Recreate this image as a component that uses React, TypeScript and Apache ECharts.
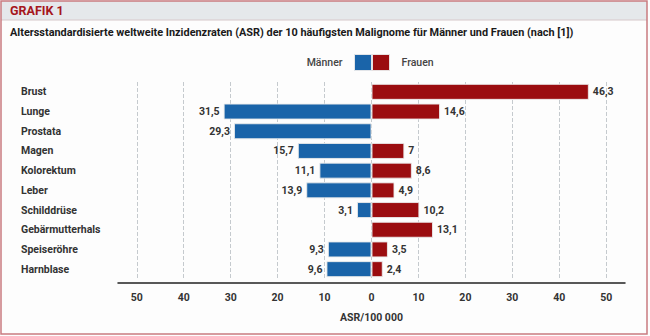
import React, { useEffect, useRef } from "react";
import * as echarts from "echarts";

const categories = [
  "Brust",
  "Lunge",
  "Prostata",
  "Magen",
  "Kolorektum",
  "Leber",
  "Schilddrüse",
  "Gebärmutterhals",
  "Speiseröhre",
  "Harnblase",
];
const men: (number | null)[] = [null, 31.5, 29.3, 15.7, 11.1, 13.9, 3.1, null, 9.3, 9.6];
const women: (number | null)[] = [46.3, 14.6, null, 7, 8.6, 4.9, 10.2, 13.1, 3.5, 2.4];
const tickValues = [-50, -40, -30, -20, -10, 0, 10, 20, 30, 40, 50];

const FONT = "Roboto, 'Liberation Sans', sans-serif";
const fmt = (v: number) => String(Math.abs(v)).replace(".", ",");

export default function App() {
  const ref = useRef<HTMLDivElement>(null);
  useEffect(() => {
    document.body.style.margin = "0";
    const chart = echarts.init(ref.current!, null, { renderer: "svg" });
    const labelStyle = { fontFamily: FONT, fontSize: 10.5, fontWeight: "bold", color: "#333" };
    chart.setOption({
      animation: false,
      backgroundColor: "#fdfdfd",
      textStyle: { fontFamily: FONT },
      graphic: [
        {
          type: "rect",
          z: -10,
          shape: { x: 1, y: 1, width: 646, height: 19 },
          style: { fill: "#e5e8eb" },
          silent: true,
        },
        {
          type: "line",
          z: -9,
          shape: { x1: 1, y1: 20, x2: 647, y2: 20 },
          style: { stroke: "#d6c8ca", lineWidth: 1 },
          silent: true,
        },
        {
          type: "rect",
          z: 100,
          shape: { x: 1, y: 1, width: 646, height: 333 },
          style: { fill: "none", stroke: "#c97b80", lineWidth: 1.5 },
          silent: true,
        },
      ],
      title: [
        {
          text: "GRAFIK 1",
          left: 10,
          top: 4,
          padding: 0,
          textStyle: { fontFamily: FONT, fontSize: 12.5, fontWeight: "bold", color: "#a5161c" },
        },
        {
          text: "Altersstandardisierte weltweite Inzidenzraten (ASR) der 10 häufigsten Malignome für Männer und Frauen (nach [1])",
          left: 10,
          top: 27,
          padding: 0,
          textStyle: { fontFamily: FONT, fontSize: 10.9, fontWeight: "bold", color: "#1a1a1a" },
        },
      ],
      legend: [
        {
          data: ["Männer"],
          right: 278,
          top: 54,
          padding: 0,
          align: "right",
          itemWidth: 17,
          itemHeight: 16,
          icon: "rect",
          itemStyle: { borderColor: "rgba(235,235,235,0.9)", borderWidth: 1 },
          textStyle: { fontFamily: FONT, fontSize: 10.5, fontWeight: 500, color: "#444", padding: [0, 7, 0, 0] },
        },
        {
          data: ["Frauen"],
          left: 372,
          top: 54,
          padding: 0,
          align: "left",
          itemWidth: 17,
          itemHeight: 16,
          icon: "rect",
          itemStyle: { borderColor: "rgba(235,235,235,0.9)", borderWidth: 1 },
          textStyle: { fontFamily: FONT, fontSize: 10.5, fontWeight: 500, color: "#444", padding: [0, 0, 0, 7] },
        },
      ],
      grid: { left: 118, right: 25, top: 82, bottom: 57 },
      xAxis: {
        type: "value",
        min: -54,
        max: 54,
        offset: 4,
        name: "ASR/100 000",
        nameLocation: "middle",
        nameGap: 29,
        nameTextStyle: { ...labelStyle },
        axisLine: { show: true, lineStyle: { color: "#222", width: 1.5 } },
        axisTick: { show: false, customValues: tickValues },
        axisLabel: {
          ...labelStyle,
          customValues: tickValues,
          formatter: (v: number) => String(Math.abs(v)),
          margin: 9,
        },
        splitLine: { show: true, lineStyle: { color: "#c5cace", type: [4, 2], width: 1 } },
      },
      yAxis: {
        type: "category",
        data: categories,
        inverse: true,
        axisLine: { show: false, onZero: false },
        axisTick: { show: false },
        axisLabel: { ...labelStyle, align: "left", margin: 97 },
      },
      series: [
        {
          name: "Männer",
          type: "bar",
          stack: "total",
          barWidth: 16,
          data: men.map((v) => (v == null ? null : -v)),
          itemStyle: { color: "#1a64a9", borderColor: "rgba(235,235,235,0.9)", borderWidth: 1 },
          label: {
            ...labelStyle,
            show: true,
            position: "left",
            distance: 4,
            formatter: (p: any) => fmt(p.value),
          },
        },
        {
          name: "Frauen",
          type: "bar",
          stack: "total",
          barWidth: 16,
          data: women,
          itemStyle: { color: "#9b0d10", borderColor: "rgba(235,235,235,0.9)", borderWidth: 1 },
          label: {
            ...labelStyle,
            show: true,
            position: "right",
            distance: 4,
            formatter: (p: any) => fmt(p.value),
          },
        },
      ],
    });
    return () => chart.dispose();
  }, []);
  return (
    <div
      ref={ref}
      style={{ position: "absolute", left: 0, top: 0, width: 650, height: 336 }}
    />
  );
}
